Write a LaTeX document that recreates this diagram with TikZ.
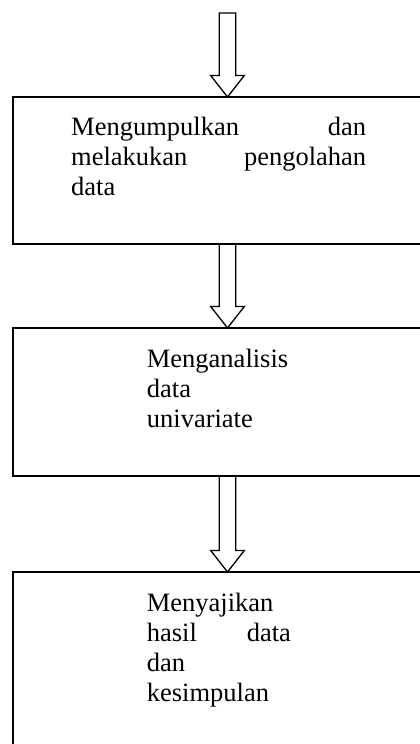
\documentclass[tikz,border=0pt]{standalone}
\usepackage{fontspec}
\setmainfont{Liberation Serif}
\usetikzlibrary{calc}

\begin{document}
\begin{tikzpicture}[x=1pt, y=-1pt,
  box/.style={draw, line width=1.8pt, rectangle, anchor=north west, minimum width=411pt, inner sep=0pt, outer sep=0pt},
  txt/.style={anchor=north west, inner sep=0pt, align=left, font=\fontsize{26.5}{30}\selectfont},
  hollow/.style={draw, line width=1.3pt, line join=miter,
    to path={let \p1=(\tikztostart), \p2=(\tikztotarget) in
      (\x1-8.3pt,\y1) -- (\x1+8.3pt,\y1) -- (\x1+8.3pt,\y2+21.5pt) -- (\x1+16.8pt,\y2+21.5pt)
      -- (\x2,\y2) -- (\x1-16.8pt,\y2+21.5pt) -- (\x1-8.3pt,\y2+21.5pt) -- cycle}}]
  \useasboundingbox (0,0) rectangle (420,744);
  \clip (0,0) rectangle (420,744);

  \node[box, minimum height=147pt] (b1) at (13,97) {};
  \node[box, minimum height=148pt] (b2) at (13,328) {};
  \node[box, minimum height=210pt] (b3) at (13,572) {};

  \node[txt, text width=295pt] (t1) at (71,117) {Mengumpulkan\hfill dan\\ melakukan\hfill pengolahan\\ data};
  \node[txt, text width=144pt] (t2) at (146.7,348.8) {Menganalisis\\ data\\ univariate};
  \node[txt, text width=144pt] (t3) at (146.7,593) {Menyajikan\\ hasil\hfill data\\ dan\\ kesimpulan};

  \coordinate (top) at (227.5,13);
  \draw[hollow] (top) to (top |- b1.north);
  \draw[hollow] (top |- b1.south) to (top |- b2.north);
  \draw[hollow] (top |- b2.south) to (top |- b3.north);
\end{tikzpicture}
\end{document}
